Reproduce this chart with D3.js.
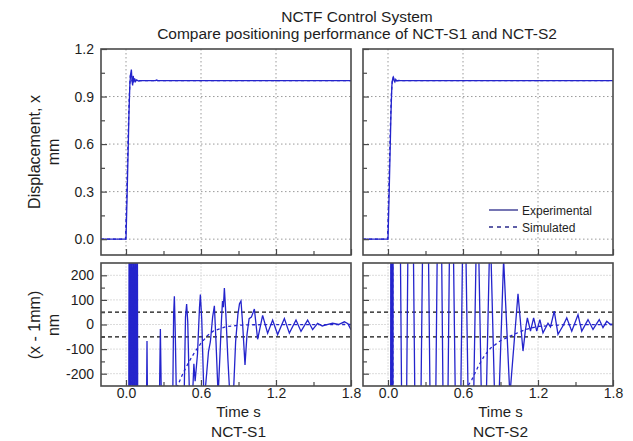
<!DOCTYPE html>
<html>
<head>
<meta charset="utf-8">
<title>NCTF Control System</title>
<script src="https://cdn.jsdelivr.net/npm/d3@7"></script>
<style>
body { margin: 0; background: #fff; }
svg text { font-family: "Liberation Sans", Arial, sans-serif; fill: #1e1e1e; }
</style>
</head>
<body>
<div id="chart"></div>
<script>

// ---- data ----
var titleLines = ["NCTF Control System", "Compare positioning performance of NCT-S1 and NCT-S2"];
var panelNames = ["NCT-S1", "NCT-S2"];
var seriesNames = ["Experimental", "Simulated"];

var timeTicks = [0.0, 0.6, 1.2, 1.8];
var timeMinor = [0.3, 0.9, 1.5];
var dispTicks = [0.0, 0.3, 0.6, 0.9, 1.2];
var dispMinor = [0.15, 0.45, 0.75, 1.05];
var errTicks = [-200, -100, 0, 100, 200];
var errMinor = [-150, -50, 50, 150];
var bandLevels = [50, -50];

// displacement, mm  [t (s), x (mm)]
var s1DispExp = [[-0.2,0],[0.0,0],[0.008,0.25],[0.016,0.52],[0.024,0.8],[0.031,0.98],[0.037,1.04],[0.043,1.07],[0.048,1.0],[0.053,0.97],[0.058,1.03],[0.063,0.99],[0.069,1.015],[0.076,0.995],[0.085,1.005],[0.1,0.998],[0.12,1.0],[0.235,1.0],[0.245,1.004],[0.255,1.0],[1.8,1.0]];
var s1DispSim = [[-0.2,0],[-0.004,0],[0.006,0.3],[0.016,0.62],[0.026,0.9],[0.034,1.03],[0.041,1.05],[0.048,1.0],[0.055,0.99],[0.064,1.01],[0.075,1.0],[1.8,1.0]];
var s2DispExp = [[-0.2,0],[0.0,0],[0.008,0.25],[0.016,0.52],[0.024,0.8],[0.031,0.97],[0.037,1.01],[0.043,1.025],[0.049,1.0],[0.055,0.992],[0.062,1.008],[0.07,0.998],[0.085,1.002],[0.1,1.0],[1.8,1.0]];
var s2DispSim = [[-0.2,0],[-0.004,0],[0.006,0.3],[0.016,0.62],[0.026,0.9],[0.034,1.0],[0.042,1.02],[0.05,1.0],[0.06,1.004],[0.075,1.0],[1.8,1.0]];

// error x - 1mm, nm  [t (s), nm]   (values beyond +-250 are off the plot)
var s1ErrExp = [[-0.2,-1000000],[0.0,-1000000],[0.02,-900],[0.026,700],[0.034,-700],[0.042,700],[0.05,-700],[0.058,700],[0.066,-700],[0.074,700],[0.082,-700],[0.09,700],[0.095,-800],
  [0.16,-600],[0.168,-67],[0.176,-600],[0.262,-500],[0.275,-18],[0.288,-500],[0.372,-400],[0.381,40],[0.387,115],[0.394,-30],[0.405,-350],[0.465,-300],[0.476,30],[0.485,83],[0.494,10],[0.508,-300],[0.53,-320],[0.543,-160],[0.553,-230],[0.572,-120],[0.588,70],[0.595,122],[0.606,20],[0.625,-320],[0.645,-200],[0.66,-110],[0.675,-70],[0.693,30],[0.707,76],[0.72,-70],[0.737,-290],[0.752,-120],[0.764,20],[0.772,95],[0.779,70],[0.787,148],[0.799,40],[0.815,-140],[0.832,-300],[0.858,-300],[0.877,-70],[0.895,40],[0.908,85],[0.92,96],[0.932,10],[0.952,-164],[0.968,-40],[0.985,24],[1.003,30],[1.027,63],[1.053,-60],[1.093,37],[1.133,-35],[1.173,18],[1.213,-41],[1.267,24],[1.307,-35],[1.36,18],[1.40,-28],[1.453,18],[1.493,-21],[1.533,5],[1.57,-6],[1.6,-2],[1.653,5],[1.7,0],[1.747,11],[1.775,3],[1.8,-21]];
var s1ErrSim = [[-0.2,-1000000],[0.026,-1000000],[0.03,800],[0.038,-800],[0.046,800],[0.054,-800],[0.062,800],[0.07,-800],[0.078,800],[0.086,-900],[0.15,-760],[0.25,-530],[0.33,-370],[0.4,-265],[0.45,-205],[0.5,-155],[0.55,-112],[0.6,-76],[0.65,-46],[0.7,-26],[0.8,-9],[0.9,-3],[1.0,-1],[1.8,0]];
var s2ErrExp = [[-0.2,-1000000],[0.0,-1000000],[0.02,-900],[0.024,700],[0.027,-700],[0.03,700],[0.033,-700],[0.036,700],[0.039,-700],[0.043,1500],[0.08,1500],[0.128,-1500],[0.18,1500],[0.238,-1500],[0.30,1400],[0.36,-1400],[0.412,1200],[0.459,-1300],[0.506,1000],[0.561,-1200],[0.608,800],[0.662,-1000],[0.715,600],[0.765,-800],[0.817,420],[0.868,-600],[0.925,265],[0.975,-290],[1.04,125],[1.08,-108],[1.1,-20],[1.115,27],[1.14,-27],[1.165,27],[1.19,-27],[1.215,20],[1.24,-34],[1.28,5],[1.3,-10],[1.33,54],[1.36,-40],[1.4,-5],[1.43,27],[1.47,-27],[1.52,40],[1.55,-27],[1.6,20],[1.64,-20],[1.69,20],[1.72,-13],[1.75,13],[1.78,0],[1.8,0]];
var s2ErrSim = [[-0.2,-1000000],[0.022,-1000000],[0.025,900],[0.028,-900],[0.031,900],[0.034,-900],[0.037,900],[0.04,-1000],[0.2,-820],[0.4,-520],[0.55,-340],[0.62,-265],[0.67,-225],[0.72,-172],[0.77,-128],[0.82,-96],[0.9,-66],[1.0,-42],[1.1,-20],[1.2,-8],[1.4,-1],[1.8,0]];


var lineColor = "#2424cc";
var frameColor = "#4a4a4a";

var svg = d3.select("#chart").append("svg")
    .attr("width", 633)
    .attr("height", 441);


/*
 * Panel - one framed plot box
 * @param _box   -- {x, y, w, h} pixel box of the frame
 * @param _cfg   -- domains, ticks, grid and the series to draw
 */
Panel = function(_id, _box, _cfg){
	this.id = _id;
	this.box = _box;
	this.cfg = _cfg;

	this.initVis();
}

Panel.prototype.initVis = function(){
	var vis = this;
	var b = vis.box, c = vis.cfg;

	vis.x = d3.scaleLinear().domain([-0.2, 1.8]).range([0, b.w]);
	vis.y = d3.scaleLinear().domain(c.yDomain).range([b.h, 0]);

	vis.g = svg.append("g").attr("transform", "translate(" + b.x + "," + b.y + ")");

	vis.g.append("clipPath").attr("id", "clip-" + vis.id)
		.append("rect").attr("width", b.w).attr("height", b.h);

	vis.updateVis();
}

Panel.prototype.updateVis = function(){
	var vis = this;
	var b = vis.box, c = vis.cfg;

	// grid
	vis.g.selectAll(".gx").data(c.gridX).enter().append("line")
		.attr("x1", function(d){ return vis.x(d); })
		.attr("x2", function(d){ return vis.x(d); })
		.attr("y1", 0).attr("y2", b.h)
		.attr("stroke", c.gridColor).attr("stroke-dasharray", c.gridDash);
	vis.g.selectAll(".gy").data(c.gridY).enter().append("line")
		.attr("y1", function(d){ return vis.y(d); })
		.attr("y2", function(d){ return vis.y(d); })
		.attr("x1", 0).attr("x2", b.w)
		.attr("stroke", c.gridColor).attr("stroke-dasharray", c.gridDash);

	// tolerance band lines
	vis.g.selectAll(".band").data(c.bands || []).enter().append("line")
		.attr("y1", function(d){ return vis.y(d); })
		.attr("y2", function(d){ return vis.y(d); })
		.attr("x1", 0).attr("x2", b.w)
		.attr("stroke", "#111").attr("stroke-width", 1.3).attr("stroke-dasharray", "4,3");

	var line = d3.line()
		.x(function(d){ return vis.x(d[0]); })
		.y(function(d){ return vis.y(d[1]); });

	var plot = vis.g.append("g").attr("clip-path", "url(#clip-" + vis.id + ")");
	c.series.forEach(function(s){
		plot.append("path")
			.attr("d", line(s.data))
			.attr("fill", "none")
			.attr("stroke", lineColor)
			.attr("stroke-width", 1.3)
			.attr("stroke-dasharray", s.dashed ? "3,3" : null);
	});

	// axes, ticks pointing inward
	var fmt = c.yFormat;
	vis.g.append("g").attr("class", "axis")
		.call(d3.axisLeft(vis.y).tickValues(c.yTicks).tickSize(-6).tickPadding(7)
			.tickFormat(c.yLabels ? fmt : ""));
	vis.g.append("g").attr("class", "axis")
		.call(d3.axisLeft(vis.y).tickValues(c.yMinor).tickSize(-4).tickFormat(""));
	vis.g.append("g").attr("class", "axis").attr("transform", "translate(0," + b.h + ")")
		.call(d3.axisBottom(vis.x).tickValues(timeTicks).tickSize(-6).tickPadding(2)
			.tickFormat(c.xLabels ? d3.format(".1f") : ""));
	vis.g.append("g").attr("class", "axis").attr("transform", "translate(0," + b.h + ")")
		.call(d3.axisBottom(vis.x).tickValues(timeMinor).tickSize(-4).tickFormat(""));

	vis.g.selectAll(".axis .domain").remove();
	vis.g.selectAll(".axis line").attr("stroke", frameColor).attr("stroke-width", 1.2);
	vis.g.selectAll(".axis text").attr("font-size", 14).attr("fill", "#1e1e1e")
		.attr("font-family", "Liberation Sans, Arial, sans-serif");

	// frame
	vis.g.append("rect")
		.attr("width", b.w).attr("height", b.h)
		.attr("fill", "none").attr("stroke", frameColor).attr("stroke-width", 1.6);
}


var dispFmt = d3.format(".1f");
var errFmt = function(d){ return d.toFixed(0); };

var colX = [101, 363], colW = 250;

var panels = [];
[[s1DispExp, s1DispSim], [s2DispExp, s2DispSim]].forEach(function(pair, i){
	panels.push(new Panel("top" + i, {x: colX[i], y: 49, w: colW, h: 206}, {
		yDomain: [-0.1, 1.2], yTicks: dispTicks, yMinor: dispMinor, yFormat: dispFmt,
		yLabels: i === 0, xLabels: false,
		gridX: [0, 0.6, 1.2], gridY: [0, 0.3, 0.6, 0.9], gridColor: "#9a9a9a", gridDash: "1.5,2.5",
		series: [{data: pair[0], dashed: false}, {data: pair[1], dashed: true}]
	}));
});
[[s1ErrExp, s1ErrSim], [s2ErrExp, s2ErrSim]].forEach(function(pair, i){
	panels.push(new Panel("bot" + i, {x: colX[i], y: 263, w: colW, h: 123}, {
		yDomain: [-250, 250], yTicks: errTicks, yMinor: errMinor, yFormat: errFmt,
		yLabels: i === 0, xLabels: true,
		gridX: [0, 0.6, 1.2], gridY: errTicks, gridColor: "#dcdcdc", gridDash: "2,1",
		bands: bandLevels,
		series: [{data: pair[0], dashed: false}, {data: pair[1], dashed: true}]
	}));
});

// titles
svg.selectAll(".title").data(titleLines).enter().append("text")
	.attr("x", 357).attr("y", function(d, i){ return 22 + i * 17; })
	.attr("text-anchor", "middle").attr("font-size", 15.5)
	.text(function(d){ return d; });

// x labels under bottom panels
panelNames.forEach(function(n, i){
	var cx = colX[i] + panels[2 + i].x(0.9);
	svg.append("text").attr("x", cx).attr("y", 417).attr("text-anchor", "middle")
		.attr("font-size", 15).text("Time s");
	svg.append("text").attr("x", cx).attr("y", 437).attr("text-anchor", "middle")
		.attr("font-size", 15.5).text(n);
});

// y labels
var yLab = [["Displacement, x", "mm", 152], ["(x - 1mm)", "nm", 325]];
yLab.forEach(function(l){
	svg.append("text").attr("transform", "translate(40," + l[2] + ") rotate(-90)")
		.attr("text-anchor", "middle").attr("font-size", 16).text(l[0]);
	svg.append("text").attr("transform", "translate(59," + l[2] + ") rotate(-90)")
		.attr("text-anchor", "middle").attr("font-size", 16).text(l[1]);
});

// legend, inside the top right panel
var leg = svg.append("g").attr("transform", "translate(489,210)");
seriesNames.forEach(function(n, i){
	leg.append("line").attr("x1", 0).attr("x2", 29).attr("y1", i * 17).attr("y2", i * 17)
		.attr("stroke", "#2a2a8a").attr("stroke-width", 1.3)
		.attr("stroke-dasharray", i === 1 ? "4,4" : null);
	leg.append("text").attr("x", 33).attr("y", i * 17 + 4.5).attr("font-size", 12).text(n);
});

</script>
</body>
</html>
